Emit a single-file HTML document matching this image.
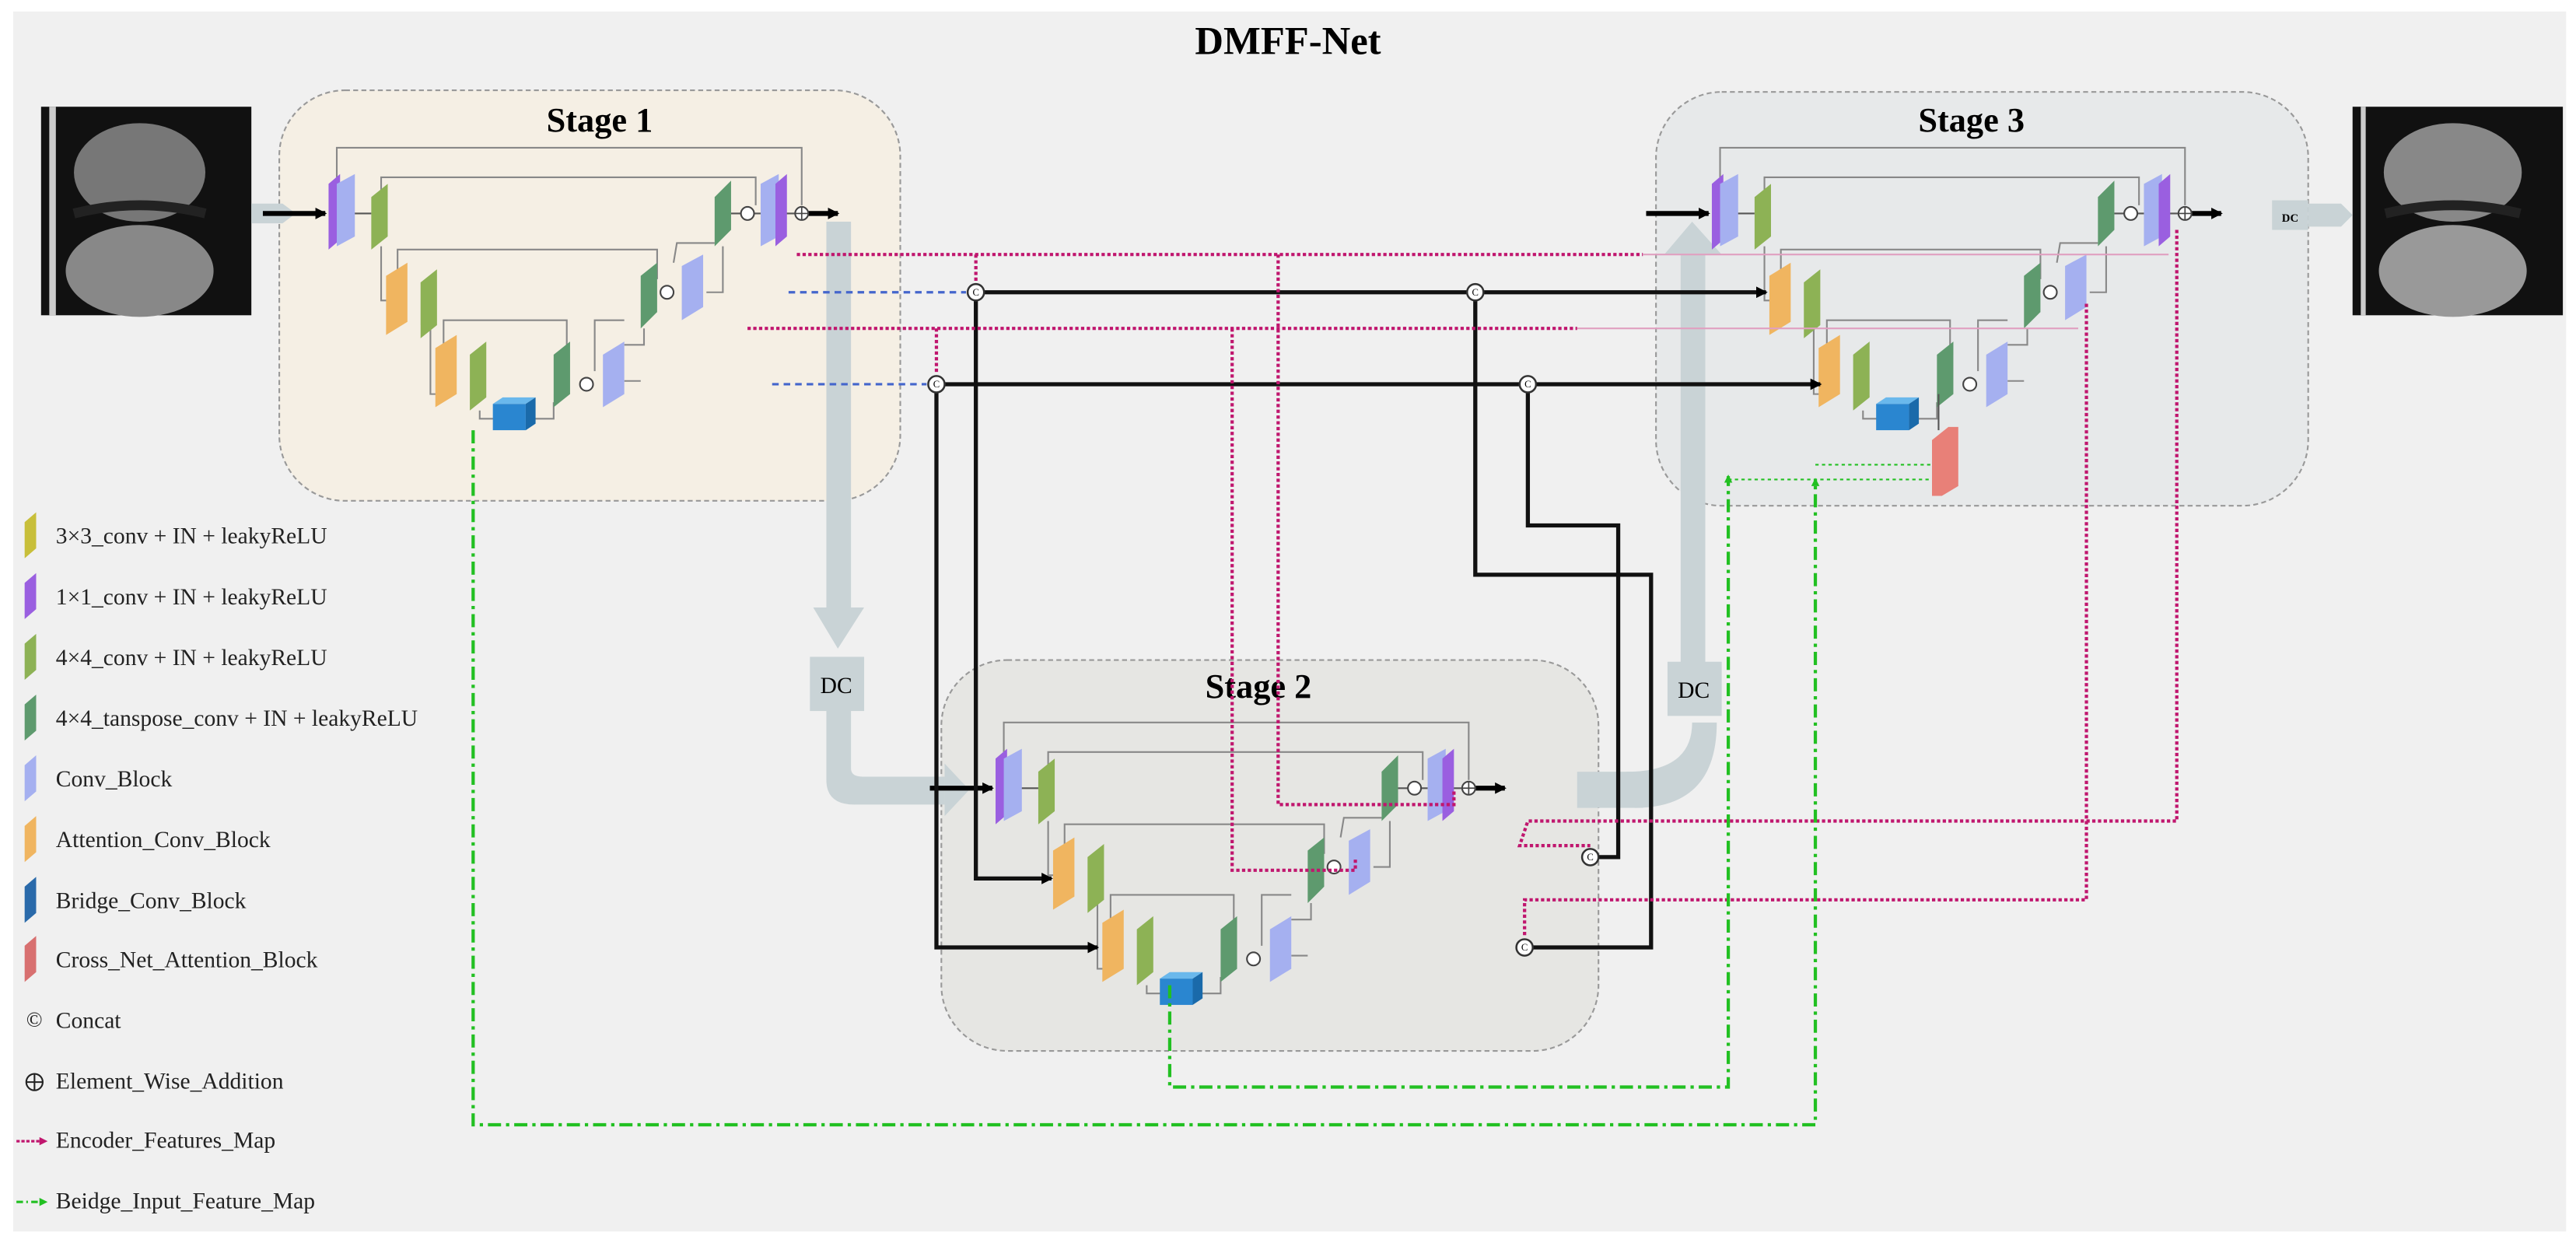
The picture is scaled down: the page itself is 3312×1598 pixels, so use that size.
<!DOCTYPE html>
<html><head><meta charset="utf-8"><style>
html,body{margin:0;padding:0;background:#fff;}
svg{display:block;}
</style></head><body>
<svg width="3312" height="1598" viewBox="0 0 1568 757" preserveAspectRatio="none" xmlns="http://www.w3.org/2000/svg" font-family="'Liberation Serif', serif">
<defs>
<marker id="ab" markerUnits="userSpaceOnUse" markerWidth="7" markerHeight="7" refX="6" refY="3.5" orient="auto"><path d="M0,0 L7,3.5 L0,7z" fill="#000"/></marker>
<marker id="ap" markerUnits="userSpaceOnUse" markerWidth="5" markerHeight="5" refX="4" refY="2.5" orient="auto"><path d="M0,0 L5,2.5 L0,5z" fill="#c0166e"/></marker>
<marker id="ag" markerUnits="userSpaceOnUse" markerWidth="5" markerHeight="5" refX="4" refY="2.5" orient="auto"><path d="M0,0 L5,2.5 L0,5z" fill="#22c022"/></marker>
</defs>
<rect x="0" y="0" width="1568" height="757" fill="#fff"/>
<rect x="8" y="7" width="1554" height="743" fill="#f0f0f0"/>
<text x="784" y="33" text-anchor="middle" font-size="24" font-weight="bold">DMFF-Net</text>

<rect x="170" y="55" width="378" height="250" rx="40" fill="#f5efe4" stroke="#999" stroke-dasharray="3,2"/>
<rect x="1008" y="56" width="397" height="252" rx="40" fill="#e7e9ea" stroke="#999" stroke-dasharray="3,2"/>
<rect x="573" y="402" width="400" height="238" rx="40" fill="#e6e6e3" stroke="#999" stroke-dasharray="3,2"/>
<text x="365" y="80" text-anchor="middle" font-size="21" font-weight="bold">Stage 1</text>
<text x="1200" y="80" text-anchor="middle" font-size="21" font-weight="bold">Stage 3</text>
<text x="766" y="425" text-anchor="middle" font-size="21" font-weight="bold">Stage 2</text>

<g>
<rect x="25" y="65" width="128" height="127" fill="#111"/>
<ellipse cx="85" cy="105" rx="40" ry="30" fill="#777"/>
<ellipse cx="85" cy="165" rx="45" ry="28" fill="#888"/>
<path d="M45,130 Q85,120 125,130" stroke="#222" stroke-width="6" fill="none"/>
<rect x="30" y="65" width="4" height="127" fill="#ccc"/>
</g>
<g>
<rect x="1432" y="65" width="128" height="127" fill="#111"/>
<ellipse cx="1493" cy="105" rx="42" ry="30" fill="#888"/>
<ellipse cx="1493" cy="165" rx="45" ry="28" fill="#999"/>
<path d="M1452,130 Q1493,120 1534,130" stroke="#222" stroke-width="6" fill="none"/>
<rect x="1437" y="65" width="3" height="127" fill="#ccc"/>
</g>

<g fill="#c9d3d6" stroke="none">
<polygon points="153,124 172,124 180,130 172,136 153,136"/>
<rect x="503" y="135" width="15" height="245"/>
<polygon points="495,370 526,370 510,395"/>
<rect x="493" y="400" width="33" height="33"/>
<path d="M503,433 L518,433 L518,468 Q518,473 525,473 L575,473 L575,490 L520,490 Q503,490 503,475 Z"/>
<polygon points="575,465 590,481 575,497"/>
<rect x="960" y="470" width="40" height="22"/>
<path d="M990,470 Q1030,470 1030,440 L1045,440 Q1045,492 995,492 Z"/>
<rect x="1015" y="403" width="33" height="33"/>
<rect x="1023" y="150" width="15" height="255"/>
<polygon points="1013,155 1048,155 1030,135"/>
<rect x="1383" y="122" width="22" height="18"/>
<polygon points="1405,124 1425,124 1432,131 1425,138 1405,138"/>
</g>
<text x="509" y="422" text-anchor="middle" font-size="14">DC</text>
<text x="1031" y="425" text-anchor="middle" font-size="14">DC</text>
<text x="1394" y="135" text-anchor="middle" font-size="7" font-weight="bold">DC</text>

<g id="st1">
<g fill="none" stroke="#888" stroke-width="1">
<polyline points="205,125 205,90 488,90 488,125"/>
<polyline points="232,125 232,108 460,108 460,125"/>
<polyline points="242,178 242,152 400,152 400,170"/>
<polyline points="270,215 270,195 345,195 345,226"/>
<polyline points="362,226 362,195 380,195"/>
<polyline points="232,150 232,183 240,183"/>
<polyline points="262,200 262,240 268,240"/>
<polyline points="292,250 292,255 302,255"/>
<polyline points="325,255 337,255 337,245"/>
<line x1="380" y1="232" x2="390" y2="232"/>
<polyline points="392,200 392,210 380,210"/>
<polyline points="430,178 440,178 440,150"/>
<polyline points="410,160 412,148 435,148"/>
</g>
<line x1="160" y1="130" x2="198" y2="130" stroke="#000" stroke-width="3" marker-end="url(#ab)"/>
<line x1="492" y1="130" x2="510" y2="130" stroke="#000" stroke-width="3" marker-end="url(#ab)"/>
<line x1="215" y1="130" x2="226" y2="130" stroke="#555"/>
<line x1="445" y1="130" x2="463" y2="130" stroke="#555"/>
<line x1="478" y1="130" x2="488" y2="130" stroke="#555"/>
<polygon points="200,112 207,106 207,146 200,152" fill="#9a5fe0"/>
<polygon points="205,112 216,106 216,144 205,150" fill="#a5b0f0"/>
<polygon points="226,120 236,112 236,144 226,152" fill="#8db255"/>
<polygon points="435,120 445,110 445,140 435,150" fill="#5e9a6e"/>
<circle cx="455" cy="130" r="4" fill="#fff" stroke="#444"/>
<polygon points="463,112 474,106 474,144 463,150" fill="#a5b0f0"/>
<polygon points="472,112 479,106 479,144 472,150" fill="#9a5fe0"/>
<circle cx="488" cy="130" r="4" fill="#fff" stroke="#444"/><path d="M484,130h8M488,126v8" stroke="#444" stroke-width="0.8"/>
<polygon points="235,168 248,160 248,196 235,204" fill="#f0b560"/>
<polygon points="256,172 266,164 266,198 256,206" fill="#8db255"/>
<polygon points="390,168 400,160 400,190 390,200" fill="#5e9a6e"/>
<circle cx="406" cy="178" r="4" fill="#fff" stroke="#444"/>
<polygon points="415,162 428,155 428,187 415,195" fill="#a5b0f0"/>
<polygon points="265,212 278,204 278,240 265,248" fill="#f0b560"/>
<polygon points="286,216 296,208 296,242 286,250" fill="#8db255"/>
<polygon points="300,246 306,242 326,242 320,246" fill="#6ab8ec"/>
<rect x="300" y="246" width="20" height="16" fill="#2a86d0"/>
<polygon points="320,246 326,242 326,258 320,262" fill="#1a6aaa"/>
<polygon points="337,216 347,208 347,240 337,248" fill="#5e9a6e"/>
<circle cx="357" cy="234" r="4" fill="#fff" stroke="#444"/>
<polygon points="367,216 380,208 380,240 367,248" fill="#a5b0f0"/>
</g>

<use href="#st1" transform="translate(406,350)"/>
<use href="#st1" transform="translate(842,0)"/>
<polygon points="1176,268 1186,260 1192,260 1192,296 1182,302 1176,302" fill="#e88078"/>
<line x1="1180" y1="262" x2="1180" y2="240" stroke="#555"/>

<g fill="none" stroke="#111" stroke-width="2.5">
<line x1="598" y1="178" x2="894" y2="178"/>
<line x1="902" y1="178" x2="1075" y2="178" marker-end="url(#ab)"/>
<line x1="574" y1="234" x2="926" y2="234"/>
<line x1="934" y1="234" x2="1108" y2="234" marker-end="url(#ab)"/>
<polyline points="594,182 594,535 640,535" marker-end="url(#ab)"/>
<polyline points="570,238 570,577 668,577" marker-end="url(#ab)"/>
<polyline points="898,182 898,350 1005,350 1005,577 932,577"/>
<polyline points="930,238 930,320 985,320 985,522 972,522"/>
</g>
<g fill="#fff" stroke="#333" stroke-width="1.2">
<circle cx="594" cy="178" r="5"/><circle cx="570" cy="234" r="5"/>
<circle cx="898" cy="178" r="5"/><circle cx="930" cy="234" r="5"/>
<circle cx="968" cy="522" r="5"/><circle cx="928" cy="577" r="5"/>
</g>
<g font-size="6" text-anchor="middle"><text x="594" y="180">C</text><text x="570" y="236">C</text><text x="898" y="180">C</text><text x="930" y="236">C</text><text x="968" y="524">C</text><text x="928" y="579">C</text></g>

<g stroke="#4466cc" stroke-width="1.5" stroke-dasharray="4,3" fill="none">
<line x1="480" y1="178" x2="588" y2="178"/>
<line x1="470" y1="234" x2="564" y2="234"/>
</g>

<g stroke="#c0166e" stroke-width="2" stroke-dasharray="2,1.5" fill="none">
<line x1="485" y1="155" x2="1000" y2="155"/>
<line x1="455" y1="200" x2="960" y2="200"/>
<polyline points="594,155 594,172"/>
<polyline points="570,200 570,228"/>
<polyline points="778,155 778,490 885,490 885,482"/>
<polyline points="750,200 750,530 825,530 825,522"/>
<polyline points="1325,140 1325,500 930,500 925,515 968,515"/>
<polyline points="1270,185 1270,548 928,548 928,570"/>
</g>
<g stroke="#e0a0c0" stroke-width="1" fill="none">
<line x1="1000" y1="155" x2="1320" y2="155"/>
<line x1="960" y1="200" x2="1265" y2="200"/>
</g>

<g stroke="#22c022" stroke-width="2" stroke-dasharray="8,3,2,3" fill="none">
<polyline points="288,262 288,685 1105,685 1105,292" marker-end="url(#ag)"/>
<polyline points="712,600 712,662 1052,662 1052,290" marker-end="url(#ag)"/>
<line x1="1052" y1="292" x2="1175" y2="292" stroke-width="1" stroke-dasharray="2,2"/>
<line x1="1105" y1="283" x2="1175" y2="283" stroke-width="1" stroke-dasharray="2,2"/>
</g>

<g font-size="14" fill="#222">
<polygon points="15,318 22,312 22,334 15,340" fill="#c8bf3a"/><text x="34" y="331">3×3_conv + IN + leakyReLU</text>
<polygon points="15,355 22,349 22,371 15,377" fill="#9a5fe0"/><text x="34" y="368">1×1_conv + IN + leakyReLU</text>
<polygon points="15,392 22,386 22,408 15,414" fill="#8db255"/><text x="34" y="405">4×4_conv + IN + leakyReLU</text>
<polygon points="15,429 22,423 22,445 15,451" fill="#5e9a6e"/><text x="34" y="442">4×4_tanspose_conv + IN + leakyReLU</text>
<polygon points="15,466 22,460 22,482 15,488" fill="#a5b0f0"/><text x="34" y="479">Conv_Block</text>
<polygon points="15,503 22,497 22,519 15,525" fill="#f0b560"/><text x="34" y="516">Attention_Conv_Block</text>
<polygon points="15,540 22,534 22,556 15,562" fill="#2a6aaa"/><text x="34" y="553">Bridge_Conv_Block</text>
<polygon points="15,576 22,570 22,592 15,598" fill="#d87070"/><text x="34" y="589">Cross_Net_Attention_Block</text>
<text x="16" y="625" font-size="13">©</text><text x="34" y="626">Concat</text>
<circle cx="21" cy="659" r="5" fill="none" stroke="#222"/><path d="M16,659h10M21,654v10" stroke="#222"/><text x="34" y="663">Element_Wise_Addition</text>
<line x1="10" y1="695" x2="28" y2="695" stroke="#c0166e" stroke-width="1.5" stroke-dasharray="2,1" marker-end="url(#ap)"/><text x="34" y="699">Encoder_Features_Map</text>
<line x1="10" y1="732" x2="28" y2="732" stroke="#22c022" stroke-width="1.5" stroke-dasharray="4,2,1,2" marker-end="url(#ag)"/><text x="34" y="736">Beidge_Input_Feature_Map</text>
</g>
</svg>
</body></html>
